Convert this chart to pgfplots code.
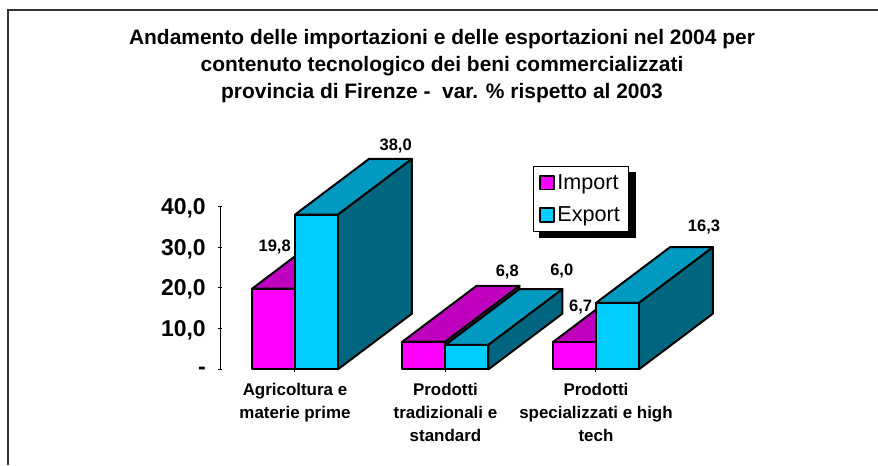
\documentclass[border=0pt]{standalone}
\usepackage{fontspec}
\setmainfont{Liberation Sans}
\usepackage{pgfplots}
\pgfplotsset{compat=1.18}
\definecolor{impF}{HTML}{FF00FF}
\definecolor{impT}{HTML}{BF00BF}
\definecolor{expF}{HTML}{00CCFF}
\definecolor{expT}{HTML}{0099BF}
\definecolor{expS}{HTML}{006680}
\begin{document}
\begin{tikzpicture}[x=0.75pt,y=0.75pt]
\useasboundingbox (0,0) rectangle (878,465);
\draw[line width=1.3pt,black!80] (8,0) -- (8,455) -- (878,455);
\node[align=center,font=\fontsize{15.7}{20.4}\selectfont\bfseries] at (442,399) {Andamento delle importazioni e delle esportazioni nel 2004 per\\contenuto tecnologico dei beni commercializzati\\provincia di Firenze -\ \ var. \% rispetto al 2003};
\begin{axis}[
  at={(165pt,71.775pt)},anchor=south west,
  scale only axis,width=338.6pt,height=122.1pt,
  xmin=0,xmax=3,ymin=0,ymax=40,
  clip=false,
  axis y line=left,axis x line=bottom,
  axis line style={-,line width=0.75pt},
  x axis line style={draw=none},
  ytick={0,10,20,30,40},
  yticklabels={-,{10,0},{20,0},{30,0},{40,0}},
  xtick={0.4983,1.4983,2.4983},
  xticklabels={{Agricoltura e\\materie prime},{Prodotti\\tradizionali e\\standard},{Prodotti\\specializzati e high\\tech}},
  tick style={black,line width=0.75pt},
  major tick length=3.4pt,
  y tick label style={font=\fontsize{17.2}{18}\selectfont\bfseries,xshift=-5.5pt,yshift=-1.2pt},
  x tick label style={font=\fontsize{12.7}{17.25}\selectfont\bfseries,align=center,anchor=north,yshift=-5.5pt},
  legend style={at={(axis cs:2.078,50)},anchor=north west,draw=black,line width=0.6pt,fill=white,
    font=\fontsize{16.2}{19}\selectfont,row sep=7.75pt,inner xsep=4.5pt,inner ysep=4pt,
    legend cell align=left},
  legend image code/.code={\draw[#1,line width=1.2pt,draw=black] (0pt,-5pt) rectangle (10.5pt,5.2pt);},
  every axis plot/.append style={draw=black,line width=1.5pt,line join=round},
]
% Import, group 1
\addplot[fill=impT,forget plot] coordinates {(0.2126,19.8)(0.7043,33.49)(0.99,33.49)(0.4983,19.8)} -- cycle;
% Export, group 1
\addplot[fill=expT,forget plot] coordinates {(0.4983,38)(0.99,51.69)(1.2757,51.69)(0.784,38)} -- cycle;
\addplot[fill=expS,forget plot] coordinates {(0.784,0)(1.2757,13.69)(1.2757,51.69)(0.784,38)} -- cycle;
% Import, group 2
\addplot[fill=impT,forget plot] coordinates {(1.2126,6.8)(1.7043,20.49)(1.99,20.49)(1.4983,6.8)} -- cycle;
\addplot[fill=impT,forget plot] coordinates {(1.4983,6.0)(1.99,19.69)(1.99,20.49)(1.4983,6.8)} -- cycle;
% Export, group 2
\addplot[fill=expT,forget plot] coordinates {(1.4983,6)(1.99,19.69)(2.2757,19.69)(1.784,6)} -- cycle;
\addplot[fill=expS,forget plot] coordinates {(1.784,0)(2.2757,13.69)(2.2757,19.69)(1.784,6)} -- cycle;
% Import, group 3
\addplot[fill=impT,forget plot] coordinates {(2.2126,6.7)(2.7043,20.39)(2.99,20.39)(2.4983,6.7)} -- cycle;
% Export, group 3
\addplot[fill=expT,forget plot] coordinates {(2.4983,16.3)(2.99,29.99)(3.2757,29.99)(2.784,16.3)} -- cycle;
\addplot[fill=expS,forget plot] coordinates {(2.784,0)(3.2757,13.69)(3.2757,29.99)(2.784,16.3)} -- cycle;
% Front faces
\addplot[ybar,bar width=32.25pt,bar shift=-16.125pt,fill=impF] coordinates {(0.4983,19.8)(1.4983,6.8)(2.4983,6.7)};
\addlegendentry{Import}
\addplot[ybar,bar width=32.25pt,bar shift=16.125pt,fill=expF] coordinates {(0.4983,38)(1.4983,6)(2.4983,16.3)};
\addlegendentry{Export}
% Legend shadow
\fill[black] (axis cs:2.118,48.6) rectangle (axis cs:2.764,32.26);
% Value labels
\foreach \xx/\yy/\tt in {1.1674/54.94/{38,0},0.3633/30.12/{19,8},1.9090/23.82/{6,8},2.2711/24.22/{6,0},2.3965/15.24/{6,7},3.2159/35.0/{16,3}}{
  \edef\temp{\noexpand\node[font=\noexpand\fontsize{12.4}{14}\noexpand\selectfont\noexpand\bfseries,inner sep=0pt] at (axis cs:\xx,\yy) {\tt};}
  \temp
}
\end{axis}
\end{tikzpicture}
\end{document}
